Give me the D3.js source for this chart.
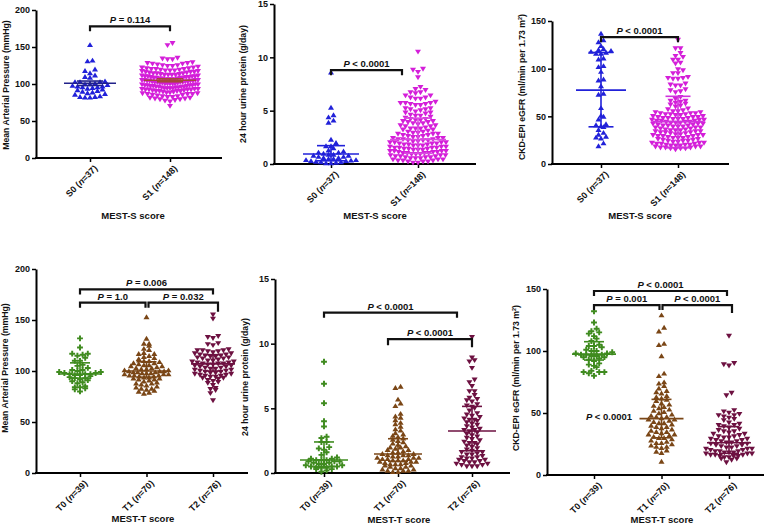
<!DOCTYPE html>
<html><head><meta charset="utf-8">
<script src="https://cdn.jsdelivr.net/npm/d3@7"></script>
<style>
body{margin:0;background:#fff}
svg{display:block}
text{font-family:"Liberation Sans",Arial,sans-serif;font-weight:bold;fill:#111}
</style>
</head><body>
<svg id="c" width="774" height="527"></svg>
<script>
// ---------------- DATA ----------------
const sCats = ["S0", "S1"];
const sN = [37, 148];
const tCats = ["T0", "T1", "T2"];
const tN = [39, 70, 76];

const mapTicks = [0, 50, 100, 150, 200];
const protTicks = [0, 5, 10, 15];
const egfrTicks = [0, 50, 100, 150];

// Mean arterial pressure by MEST-S
const mapS0 = [153,132,131,120,118,115,112,110,109,104,103,103,103,101,100,100,99,98,97,97,96,96,95,94,93,92,91,90,89,88,87,86,84,83,83,82,82];
const mapS1 = [155,152,135,134,133,133,129,128,128,127,127,126,125,125,124,
  123,122,122,121,121,120,120,119,119,118,118,117,117,116,116,
  115,115,114,114,113,113,112,112,112,111,111,110,110,110,109,
  109,109,108,108,108,107,107,107,106,106,106,105,105,105,105,
  104,104,104,103,103,103,102,102,102,101,101,101,100,100,100,
  100,99,99,99,98,98,98,97,97,97,96,96,96,95,95,
  95,94,94,94,93,93,93,92,92,92,91,91,90,90,90,
  89,89,88,88,87,87,86,86,85,85,84,83,83,82,82,
  81,81,80,80,79,79,78,77,76,70,118,114,110,106,102,
  98,94,90,86,124,120,116,112,108,104,100,96,92];
const mapSMid = [101, 105];
const mapSLo = [98, 103];
const mapSHi = [104, 107];

// 24 hour urine protein by MEST-S
const protS0 = [8.6,5.3,4.6,4.4,4.1,3.9,2.3,2.0,1.7,1.7,1.5,1.3,1.2,1.1,1.1,1.0,0.9,0.9,0.8,0.8,0.7,0.7,0.6,0.6,0.5,0.5,0.4,0.4,0.35,0.3,0.3,0.25,0.2,0.2,0.15,0.1,0.1];
const protS1 = [10.5,8.9,8.8,8.6,8.1,7.2,7.0,6.9,6.7,6.7,6.6,6.4,6.4,6.2,6.2,6.1,6.1,5.8,5.7,5.7,5.7,5.6,5.6,5.5,5.5,5.2,5.2,5.1,5.1,5.0,
  4.9,4.8,4.8,4.7,4.6,4.5,4.5,4.4,4.3,4.2,4.2,4.1,4.1,4.0,4.0,3.9,3.9,3.8,
  3.7,3.6,3.6,3.5,3.5,3.4,3.3,3.3,3.2,3.2,3.1,3.0,3.0,2.9,2.9,2.8,2.8,2.7,2.7,2.6,2.6,2.5,
  2.5,2.4,2.4,2.3,2.3,2.3,2.2,2.2,2.2,2.1,2.1,2.0,2.0,2.0,1.9,1.9,1.9,1.8,1.8,1.8,
  1.7,1.7,1.7,1.6,1.6,1.6,1.5,1.5,1.5,1.4,1.4,1.4,1.3,1.3,1.3,1.2,1.2,1.2,1.1,1.1,
  1.1,1.0,1.0,1.0,0.9,0.9,0.9,0.8,0.8,0.8,0.7,0.7,0.7,0.6,0.6,0.6,0.5,0.5,0.5,0.4,
  0.4,0.4,0.3,0.3,0.3,0.2,0.2,0.2,0.1,0.1,1.0,1.2,1.5,2.0,2.4,2.8,3.3,3.8];
const protSMid = [0.94, 2.3];
const protSLo = [0.3, 1.0];
const protSHi = [1.72, 4.3];

// CKD-EPI eGFR by MEST-S
const egfrS0 = [137,130,128,124,121,120,119,118,117,116,116,111,110,103,102,97,89,88,82,74,73,59,51,50,47,42,41,40,39,36,33,31,29,28,27,22,19];
const egfrS1 = [130,121,121,116,113,112,109,109,106,105,99,98,95,95,91,90,90,89,89,84,
  83,82,82,78,77,76,75,70,68,66,66,65,64,63,62,61,60,58,57,56,
  55,55,54,54,53,53,53,52,52,52,51,51,
  50,50,49,49,49,48,48,48,47,47,47,46,
  46,46,45,45,45,44,44,44,43,43,43,42,
  42,42,41,41,40,40,40,39,39,39,38,38,
  38,37,37,36,36,35,35,35,34,34,34,33,
  33,33,32,32,31,31,30,30,30,29,29,29,
  28,28,27,27,27,26,26,25,25,24,24,24,
  23,23,22,22,22,21,21,21,20,20,20,19,
  19,19,18,18,18,17,17,17,16,16,16,15];
const egfrSMid = [77.5, 44.5];
const egfrSLo = [39, 17];
const egfrSHi = [117, 71];

// Mean arterial pressure by MEST-T
const mapT0 = [132,123,117,117,116,115,113,110,110,106,105,103,101,101,100,99,99,98,98,97,97,97,96,96,95,94,93,93,92,91,90,89,88,85,84,84,83,82,80];
const mapT1 = [153,132,127,127,125,122,121,118,117,117,115,114,113,112,110,110,109,108,108,107,
  106,106,105,105,104,103,103,102,102,101,101,100,100,100,99,99,99,98,98,98,
  97,97,97,96,96,96,95,95,94,94,93,93,92,92,91,90,89,88,88,87,
  86,85,84,83,83,82,81,80,79,78];
const mapT2 = [155,151,134,133,132,127,126,125,121,120,120,120,119,119,118,117,117,116,116,115,
  115,114,114,113,113,112,112,111,110,110,109,109,108,108,107,107,107,106,106,105,
  105,104,104,103,103,102,102,101,101,100,100,99,99,98,98,97,97,96,96,95,
  95,94,94,93,93,92,91,90,89,88,86,83,82,81,78,71];
const mapTMid = [97, 100, 107];
const mapTLo = [93, 94, 100];
const mapTHi = [108, 109, 116];

// 24 hour urine protein by MEST-T
const protT0 = [8.6,6.9,5.4,4.0,3.6,2.8,2.7,2.4,2.4,2.0,1.9,1.8,1.6,1.4,1.2,1.1,1.1,1.0,1.0,1.0,0.9,0.9,0.9,0.8,0.8,0.7,0.7,0.6,0.6,0.5,0.5,0.5,0.4,0.4,0.4,0.3,0.3,0.2,0.1];
const protT1 = [6.7,6.6,5.7,5.4,5.2,4.6,4.4,4.3,4.1,3.9,3.8,3.6,3.4,3.3,3.1,3.0,2.9,2.8,2.7,2.6,
  2.5,2.4,2.3,2.2,2.1,2.0,2.0,1.9,1.8,1.8,1.7,1.6,1.6,1.5,1.5,1.4,1.4,1.4,1.3,1.3,
  1.2,1.2,1.2,1.1,1.1,1.1,1.0,1.0,1.0,0.9,0.9,0.9,0.8,0.8,0.7,0.7,0.7,0.6,0.6,0.5,
  0.5,0.4,0.4,0.3,0.3,0.2,0.2,0.2,0.1,0.1];
const protT2 = [10.5,8.9,8.7,8.6,8.1,7.2,7.0,6.7,6.3,6.3,6.0,5.8,5.7,5.6,5.5,5.3,5.2,5.1,5.0,4.8,
  4.6,4.5,4.4,4.3,4.2,4.1,4.1,4.0,3.9,3.8,3.7,3.6,3.5,3.4,3.3,3.3,3.2,3.1,3.0,2.9,
  2.8,2.7,2.6,2.5,2.4,2.3,2.3,2.2,2.1,2.0,1.9,1.8,1.7,1.6,1.6,1.5,1.4,1.4,1.3,1.2,
  1.2,1.1,1.1,1.0,1.0,0.9,0.9,0.8,0.8,0.7,0.7,0.6,0.6,0.5,0.5,0.5];
const protTMid = [1.0, 1.47, 3.25];
const protTLo = [0.5, 0.9, 1.72];
const protTHi = [2.4, 2.65, 5.15];

// CKD-EPI eGFR by MEST-T
const egfrT0 = [132,123,118,116,115,114,112,110,108,105,104,104,103,101,100,100,99,98,98,97,97,97,96,96,95,95,94,93,92,90,89,88,87,84,83,83,83,82,80];
const egfrT1 = [129,119,116,106,105,96,82,80,75,74,72,70,68,67,66,64,63,62,61,60,
  58,57,56,55,54,53,52,51,50,49,48,47,47,46,45,45,44,43,42,42,
  41,40,39,39,38,37,36,35,35,34,33,33,32,31,30,30,29,28,27,26,
  26,25,24,23,23,22,20,19,18,11];
const egfrT2 = [112,90,89,88,66,64,52,51,50,49,48,48,47,46,45,44,42,41,40,40,
  39,38,37,36,35,35,34,33,33,32,31,31,30,30,29,29,28,28,27,27,
  26,26,25,25,24,24,23,23,22,22,21,21,21,20,20,19,19,19,18,18,
  18,17,17,17,16,16,16,15,15,15,14,14,13,13,12,10];
const egfrTMid = [97.5, 45.5, 26];
const egfrTLo = [92.7, 30, 17.5];
const egfrTHi = [107.5, 61, 39];

// P-value annotations
const pMapS = ["= 0.114"];
const pProtS = ["< 0.0001"];
const pEgfrS = ["< 0.0001"];
const pMapT = ["= 0.006", "= 1.0", "= 0.032"];
const pProtT = ["< 0.0001", "< 0.0001"];
const pEgfrT = ["< 0.0001", "= 0.001", "< 0.0001", "< 0.0001"];

// ---------------- STYLE ----------------
const BLUE = "#2121d9", MAG = "#d41fd9", GREEN = "#3f8b1f", BROWN = "#7a4616", MAROON = "#6d1141";

const svg = d3.select("#c");

const symPath = {
  up: "M0,-2.6L3,2.3L-3,2.3Z",
  down: "M0,2.6L3,-2.3L-3,-2.3Z",
  cross: d3.symbol(d3.symbolCross, 19)()
};

function swarm(vals, y, cx, rowH, dx, maxW) {
  const s = vals.map(v => ({v, py: y(v)})).sort((a, b) => a.v - b.v);
  const bins = []; let cur = null;
  s.forEach(p => {
    if (!cur || cur.y0 - p.py > rowH) { cur = {y0: p.py, pts: []}; bins.push(cur); }
    cur.pts.push(p);
  });
  const out = [];
  bins.forEach(b => {
    const n = b.pts.length;
    let step = dx;
    if (n > 1 && (n - 1) * step > maxW) step = maxW / (n - 1);
    const slots = d3.range(n).map(j => (j - (n - 1) / 2) * step)
      .sort((a, c) => Math.abs(a) - Math.abs(c) || a - c);
    b.pts.forEach((p, i) => out.push({v: p.v, x: cx + slots[i], y: p.py}));
  });
  return out;
}

const panels = [
  {ax: 36, ay0: 158, ay1: 10, axEnd: 222, xr: [90, 170], yMax: 200, ticks: mapTicks,
   cats: sCats, ns: sN, data: [mapS0, mapS1], mid: mapSMid, lo: mapSLo, hi: mapSHi,
   sym: ["up", "down"], col: [BLUE, MAG], lcol: ["#22228a", "#a4483a"],
   yTitle: "Mean Arterial Pressure (mmHg)", ytx: 9, yty: 85,
   xTitle: "MEST-S score", xtx: 133, xty: 219, longW: 52, shortW: 26, rowH: 3.8, dx: 5, maxW: 56,
   brackets: [{a: 0, b: 1, v: 178, da: 0, db: 0, la: 5, lb: 5, p: pMapS[0]}]},
  {ax: 274, ay0: 164, ay1: 4, axEnd: 476, xr: [331, 418], yMax: 15, ticks: protTicks,
   cats: sCats, ns: sN, data: [protS0, protS1], mid: protSMid, lo: protSLo, hi: protSHi,
   sym: ["up", "down"], col: [BLUE, MAG], lcol: [BLUE, "#d94de0"],
   yTitle: "24 hour urine protein (g/day)", ytx: 246, yty: 84,
   xTitle: "MEST-S score", xtx: 375, xty: 219, longW: 56, shortW: 28, rowH: 3.8, dx: 5, maxW: 56,
   brackets: [{a: 0, b: 1, v: 8.8, da: 0, db: -16, la: 5, lb: 5, p: pProtS[0]}]},
  {ax: 552, ay0: 164, ay1: 21, axEnd: 729, xr: [601, 678], yMax: 150, ticks: egfrTicks,
   cats: sCats, ns: sN, data: [egfrS0, egfrS1], mid: egfrSMid, lo: egfrSLo, hi: egfrSHi,
   sym: ["up", "down"], col: [BLUE, MAG], lcol: [BLUE, "#cf33dc"],
   yTitle: "CKD-EPI eGFR (ml/min per 1.73 m", sup: true, ytx: 525, yty: 87,
   xTitle: "MEST-S score", xtx: 640, xty: 219, longW: 50, shortW: 25, rowH: 3.8, dx: 5, maxW: 52,
   brackets: [{a: 0, b: 1, v: 133, da: 0, db: 0, la: 5, lb: 5, p: pEgfrS[0]}]},
  {ax: 36, ay0: 473, ay1: 269, axEnd: 248, xr: [80, 213], yMax: 200, ticks: mapTicks,
   cats: tCats, ns: tN, data: [mapT0, mapT1, mapT2], mid: mapTMid, lo: mapTLo, hi: mapTHi,
   sym: ["cross", "up", "down"], col: [GREEN, BROWN, MAROON], lcol: [GREEN, BROWN, MAROON],
   yTitle: "Mean Arterial Pressure (mmHg)", ytx: 8, yty: 368,
   xTitle: "MEST-T score", xtx: 143, xty: 522, longW: 44, shortW: 20, rowH: 3.8, dx: 5.2, maxW: 44,
   brackets: [{a: 0, b: 2, v: 180, da: 0, db: 0, la: 5, lb: 5, p: pMapT[0]},
              {a: 0, b: 1, v: 167, da: 0, db: -1, la: 5, lb: 5, p: pMapT[1]},
              {a: 1, b: 2, v: 167, da: 2, db: 5, la: 5, lb: 9, p: pMapT[2]}]},
  {ax: 275, ay0: 473, ay1: 279, axEnd: 510, xr: [324, 472], yMax: 15, ticks: protTicks,
   cats: tCats, ns: tN, data: [protT0, protT1, protT2], mid: protTMid, lo: protTLo, hi: protTHi,
   sym: ["cross", "up", "down"], col: [GREEN, BROWN, MAROON], lcol: [GREEN, BROWN, MAROON],
   yTitle: "24 hour urine protein (g/day)", ytx: 248, yty: 377,
   xTitle: "MEST-T score", xtx: 399, xty: 523, longW: 48, shortW: 20, rowH: 3.8, dx: 5.2, maxW: 48,
   brackets: [{a: 0, b: 2, v: 12.4, da: 0, db: -15, la: 5, lb: 5, p: pProtT[0]},
              {a: 1, b: 2, v: 10.35, da: -10, db: 0, la: 6, lb: 8, p: pProtT[1]}]},
  {ax: 547, ay0: 475, ay1: 289, axEnd: 764, xr: [594, 729], yMax: 150, ticks: egfrTicks,
   cats: tCats, ns: tN, data: [egfrT0, egfrT1, egfrT2], mid: egfrTMid, lo: egfrTLo, hi: egfrTHi,
   sym: ["cross", "up", "down"], col: [GREEN, BROWN, MAROON], lcol: [GREEN, BROWN, MAROON],
   yTitle: "CKD-EPI eGFR (ml/min per 1.73 m", sup: true, ytx: 519, yty: 378,
   xTitle: "MEST-T score", xtx: 662, xty: 523, longW: 44, shortW: 20, rowH: 3.8, dx: 5.2, maxW: 46,
   brackets: [{a: 0, b: 2, v: 148.4, da: 0, db: -2, la: 5, lb: 5, p: pEgfrT[0]},
              {a: 0, b: 1, v: 137, da: 0, db: -2, la: 5, lb: 5, p: pEgfrT[1]},
              {a: 1, b: 2, v: 137, da: 1, db: 3, la: 5, lb: 8, p: pEgfrT[2]}],
   extraP: {cat: 0, v: 47, dx: 15, p: pEgfrT[3]}}
];

function pText(g, x, y, p) {
  const t = g.append("text").attr("x", x).attr("y", y).attr("text-anchor", "middle")
    .attr("font-size", 9.5);
  t.append("tspan").attr("font-style", "italic").text("P");
  t.append("tspan").text(" " + p);
}

panels.forEach(P => {
  const g = svg.append("g");
  const y = d3.scaleLinear().domain([0, P.yMax]).range([P.ay0, P.ay1]);
  const x = d3.scalePoint().domain(P.cats).range(P.xr);

  // y axis
  const ya = g.append("g").attr("transform", `translate(${P.ax},0)`)
    .call(d3.axisLeft(y).tickValues(P.ticks).tickSize(4).tickSizeOuter(0).tickPadding(2));
  ya.select(".domain").attr("stroke", "#000").attr("stroke-width", 2);
  ya.selectAll(".tick line").attr("stroke", "#000").attr("stroke-width", 1.5);
  ya.selectAll(".tick text").attr("font-size", 9).attr("font-family", "Liberation Sans, Arial, sans-serif")
    .attr("font-weight", "bold").attr("fill", "#111");

  // x axis
  const xa = g.append("g").attr("transform", `translate(0,${P.ay0})`)
    .call(d3.axisBottom(x).tickSize(4).tickSizeOuter(0).tickFormat(""));
  xa.select(".domain").remove();
  xa.selectAll(".tick line").attr("stroke", "#000").attr("stroke-width", 1.5);
  g.append("line").attr("x1", P.ax - 1).attr("x2", P.axEnd).attr("y1", P.ay0).attr("y2", P.ay0)
    .attr("stroke", "#000").attr("stroke-width", 2);

  // category labels
  P.cats.forEach((c, i) => {
    const t = g.append("text").attr("text-anchor", "end").attr("font-size", 9)
      .attr("transform", `translate(${x(c) + 8},${P.ay0 + 11}) rotate(-45)`);
    t.append("tspan").text(c + " (");
    t.append("tspan").attr("font-style", "italic").text("n");
    t.append("tspan").text("=" + P.ns[i] + ")");
  });

  // axis titles
  const yt = g.append("text").attr("text-anchor", "middle").attr("font-size", 8.7)
    .attr("transform", `translate(${P.ytx},${P.yty}) rotate(-90)`);
  yt.append("tspan").text(P.yTitle);
  if (P.sup) {
    yt.append("tspan").attr("font-size", 5.5).attr("dy", -3.5).text("2");
    yt.append("tspan").attr("dy", 3.5).text(")");
  }
  g.append("text").attr("x", P.xtx).attr("y", P.xty).attr("text-anchor", "middle")
    .attr("font-size", 9.5).text(P.xTitle);

  // points
  P.data.forEach((vals, i) => {
    const cx = x(P.cats[i]);
    const pts = swarm(vals, y, cx, P.rowH, P.dx, P.maxW);
    g.append("g").selectAll("path").data(pts).join("path")
      .attr("d", symPath[P.sym[i]])
      .attr("transform", d => `translate(${d.x},${d.y})`)
      .attr("fill", P.col[i]);
  });

  // summary lines
  P.cats.forEach((c, i) => {
    const cx = x(c), lc = P.lcol[i];
    const ln = (x1, x2, y1, y2) => g.append("line").attr("x1", x1).attr("x2", x2)
      .attr("y1", y1).attr("y2", y2).attr("stroke", lc).attr("stroke-width", 1.6);
    ln(cx - P.longW / 2, cx + P.longW / 2, y(P.mid[i]), y(P.mid[i]));
    ln(cx - P.shortW / 2, cx + P.shortW / 2, y(P.lo[i]), y(P.lo[i]));
    ln(cx - P.shortW / 2, cx + P.shortW / 2, y(P.hi[i]), y(P.hi[i]));
    ln(cx, cx, y(P.lo[i]), y(P.hi[i]));
  });

  // brackets
  P.brackets.forEach(b => {
    const x1 = x(P.cats[b.a]) + b.da, x2 = x(P.cats[b.b]) + b.db, yb = y(b.v);
    g.append("path").attr("d", `M${x1},${yb + b.la}V${yb}H${x2}V${yb + b.lb}`)
      .attr("fill", "none").attr("stroke", "#111").attr("stroke-width", 2.2);
    pText(g, (x1 + x2) / 2, yb - 3, b.p);
  });
  if (P.extraP) {
    const e = P.extraP;
    pText(g, x(P.cats[e.cat]) + e.dx, y(e.v) + 3, e.p);
  }
});
</script>
</body></html>
